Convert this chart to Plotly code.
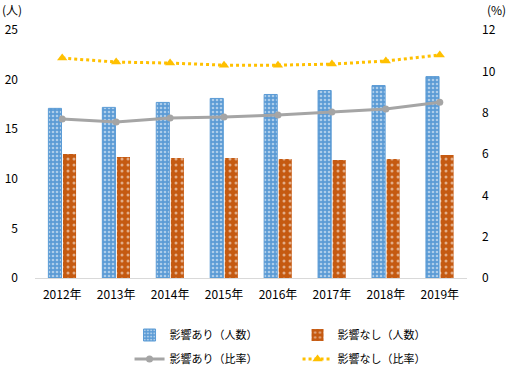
import plotly.graph_objects as go

years = ["2012年", "2013年", "2014年", "2015年", "2016年", "2017年", "2018年", "2019年"]
affected_count = [17.1, 17.2, 17.7, 18.1, 18.5, 18.9, 19.4, 20.3]
unaffected_count = [12.5, 12.2, 12.1, 12.1, 12.0, 11.9, 12.0, 12.4]
affected_ratio = [7.69, 7.55, 7.74, 7.79, 7.89, 8.03, 8.18, 8.50]
unaffected_ratio = [10.64, 10.45, 10.40, 10.30, 10.30, 10.35, 10.50, 10.79]

FONT = "Noto Sans CJK JP"
BLUE = "#5B9BD5"
ORANGE = "#C55A11"
GREY = "#A5A5A5"
GOLD = "#FFC000"

fig = go.Figure()
fig.add_trace(go.Bar(
    x=years, y=affected_count, name="影響あり（人数）",
    marker=dict(color="white", line=dict(color=BLUE, width=1),
                pattern=dict(shape=".", bgcolor=BLUE, fgcolor="white", size=4, solidity=0.35)),
    yaxis="y", legend="legend",
))
fig.add_trace(go.Bar(
    x=years, y=unaffected_count, name="影響なし（人数）",
    marker=dict(color="white", line=dict(color=ORANGE, width=0),
                pattern=dict(shape=".", bgcolor=ORANGE, fgcolor="white", size=6, solidity=0.2)),
    yaxis="y", legend="legend",
))
fig.add_trace(go.Scatter(
    x=years, y=affected_ratio, name="影響あり（比率）", mode="lines+markers",
    line=dict(color=GREY, width=3), marker=dict(symbol="circle", size=7, color=GREY),
    yaxis="y2", legend="legend2",
))
fig.add_trace(go.Scatter(
    x=years, y=unaffected_ratio, name="影響なし（比率）", mode="lines+markers",
    line=dict(color=GOLD, width=3, dash="dot"), marker=dict(symbol="triangle-up", size=9, color=GOLD),
    yaxis="y2", legend="legend2",
))

leg_common = dict(orientation="h", xref="container", yref="container", xanchor="left",
                  yanchor="middle", entrywidth=123, font=dict(size=11), itemwidth=30,
                  bgcolor="rgba(0,0,0,0)")

fig.update_layout(
    width=508, height=367,
    margin=dict(l=35, r=41, t=30, b=89, autoexpand=False),
    paper_bgcolor="white", plot_bgcolor="white",
    font=dict(family=FONT, size=12, color="#000000"),
    barmode="group", bargap=0.46, bargroupgap=0.1,
    xaxis=dict(showgrid=False, showline=True, linecolor="#D9D9D9", linewidth=1,
               ticks="", tickfont=dict(size=12), automargin=False, ticklabelstandoff=6),
    yaxis=dict(range=[0, 25], dtick=5, showgrid=False, zeroline=False, showline=False,
               ticks="", tickfont=dict(size=12), ticklabelstandoff=16, automargin=False),
    yaxis2=dict(range=[0, 12], dtick=2, overlaying="y", side="right", showgrid=False,
                zeroline=False, showline=False, ticks="", tickfont=dict(size=12),
                ticklabelstandoff=14, automargin=False),
    legend=dict(x=0.255, y=(367 - 335) / 367, **leg_common),
    legend2=dict(x=0.255, y=(367 - 359) / 367, **leg_common),
    showlegend=True,
)
fig.add_annotation(text="(人)", x=0, y=1, xref="paper", yref="paper", showarrow=False,
                   xshift=-35, yshift=21, xanchor="left", yanchor="middle", font=dict(size=12))
fig.add_annotation(text="(%)", x=1, y=1, xref="paper", yref="paper", showarrow=False,
                   xshift=41, yshift=21, xanchor="right", yanchor="middle", font=dict(size=12))

fig.write_html("out.html", post_script="document.body.style.margin='0';",
               config={"displayModeBar": False})
